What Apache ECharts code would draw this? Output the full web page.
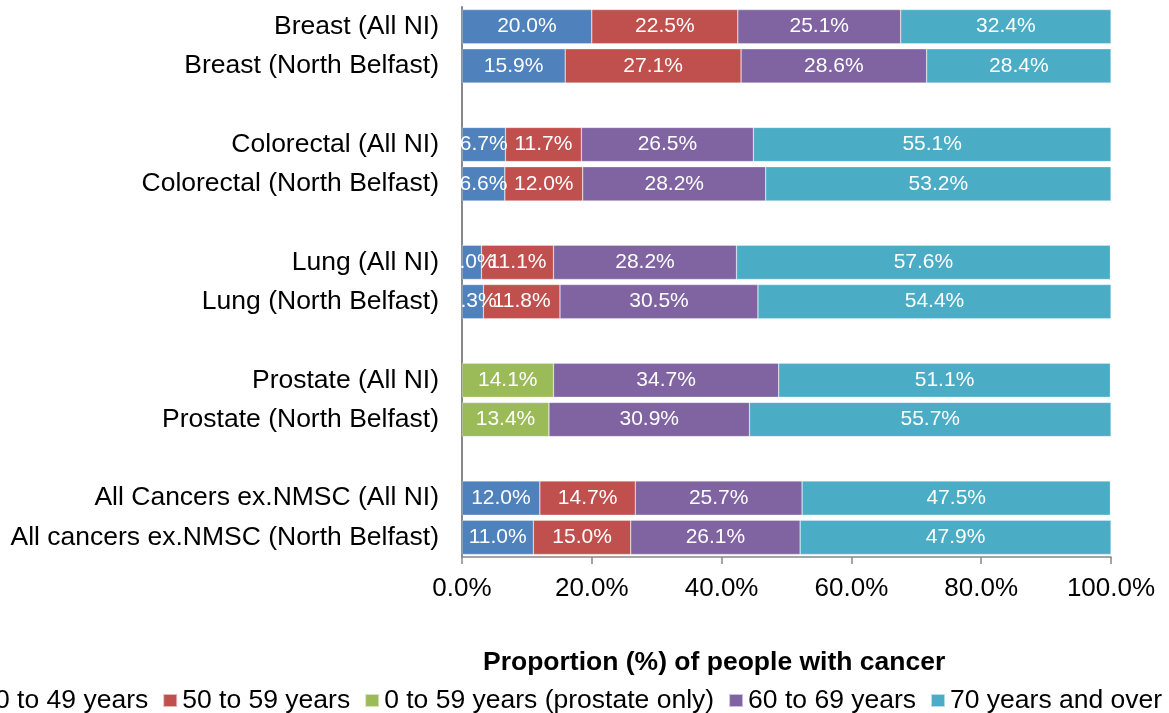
<!DOCTYPE html>
<html>
<head>
<meta charset="utf-8">
<script src="https://cdn.jsdelivr.net/npm/echarts@6/dist/echarts.min.js"></script>
<style>
  html, body { margin: 0; padding: 0; background: #fff; }
  #chart { width: 1169px; height: 713px; }
</style>
</head>
<body>
<div id="chart"></div>
<script>
// categories, top to bottom (blank ones are the gaps between cancer groups)
var categories = [
    'Breast (All NI)', 'Breast (North Belfast)', ' ',
    'Colorectal (All NI)', 'Colorectal (North Belfast)', '  ',
    'Lung (All NI)', 'Lung (North Belfast)', '   ',
    'Prostate (All NI)', 'Prostate (North Belfast)', '    ',
    'All Cancers ex.NMSC (All NI)', 'All cancers ex.NMSC (North Belfast)'
];
var seriesNames = ['0 to 49 years', '50 to 59 years', '0 to 59 years (prostate only)', '60 to 69 years', '70 years and over'];
var age0to49  = [20.0, 15.9, '-', 6.7, 6.6, '-', 3.0, 3.3, '-', '-', '-', '-', 12.0, 11.0];
var age50to59 = [22.5, 27.1, '-', 11.7, 12.0, '-', 11.1, 11.8, '-', '-', '-', '-', 14.7, 15.0];
var age0to59  = ['-', '-', '-', '-', '-', '-', '-', '-', '-', 14.1, 13.4, '-', '-', '-'];
var age60to69 = [25.1, 28.6, '-', 26.5, 28.2, '-', 28.2, 30.5, '-', 34.7, 30.9, '-', 25.7, 26.1];
var age70plus = [32.4, 28.4, '-', 55.1, 53.2, '-', 57.6, 54.4, '-', 51.1, 55.7, '-', 47.5, 47.9];
var xTicks = [0, 20, 40, 60, 80, 100];

var colors = ['#4F81BD', '#C0504D', '#9BBB59', '#8064A2', '#4BACC6'];
var values = [age0to49, age50to59, age0to59, age60to69, age70plus];

var font = 'Arial, "Liberation Sans", sans-serif';

var series = values.map(function (d, i) {
    return {
        name: seriesNames[i],
        type: 'bar',
        stack: 'total',
        barCategoryGap: '13%',
        data: d,
        itemStyle: { color: colors[i], borderColor: 'rgba(255,255,255,0.6)', borderWidth: 0.5 },
        label: {
            show: true,
            position: 'inside',
            color: '#fff',
            fontFamily: font,
            fontSize: 21,
            formatter: function (p) { return p.value.toFixed(1) + '%'; }
        }
    };
});

var myChart = echarts.init(document.getElementById('chart'));
myChart.setOption({
    animation: false,
    color: colors,
    title: {
        text: 'Proportion (%) of people with cancer',
        left: 483,
        top: 649,
        padding: 0,
        textStyle: { fontFamily: font, fontSize: 26.5, fontWeight: 'bold', color: '#000' }
    },
    grid: { left: 462, right: 58, top: 7, bottom: 156 },
    legend: {
        data: seriesNames,
        left: -25,
        top: 687,
        padding: 0,
        itemWidth: 14,
        itemHeight: 13,
        itemGap: 14,
        icon: 'rect',
        textStyle: { fontFamily: font, fontSize: 26.5, color: '#000' }
    },
    xAxis: {
        type: 'value',
        min: xTicks[0],
        max: xTicks[xTicks.length - 1],
        interval: 20,
        axisLine: { show: true, lineStyle: { color: '#888', width: 1.5 } },
        axisTick: { show: true, length: 7, lineStyle: { color: '#888', width: 1.5 } },
        axisLabel: {
            margin: 19,
            fontFamily: font, fontSize: 26, color: '#000',
            formatter: function (v) { return v.toFixed(1) + '%'; }
        },
        splitLine: { show: false }
    },
    yAxis: {
        type: 'category',
        inverse: true,
        data: categories,
        axisLine: { show: true, lineStyle: { color: '#888', width: 2 } },
        axisTick: { show: false },
        axisLabel: { margin: 23, fontFamily: font, fontSize: 26.5, color: '#000' }
    },
    series: series
});
window.onresize = myChart.resize;
</script>
</body>
</html>
